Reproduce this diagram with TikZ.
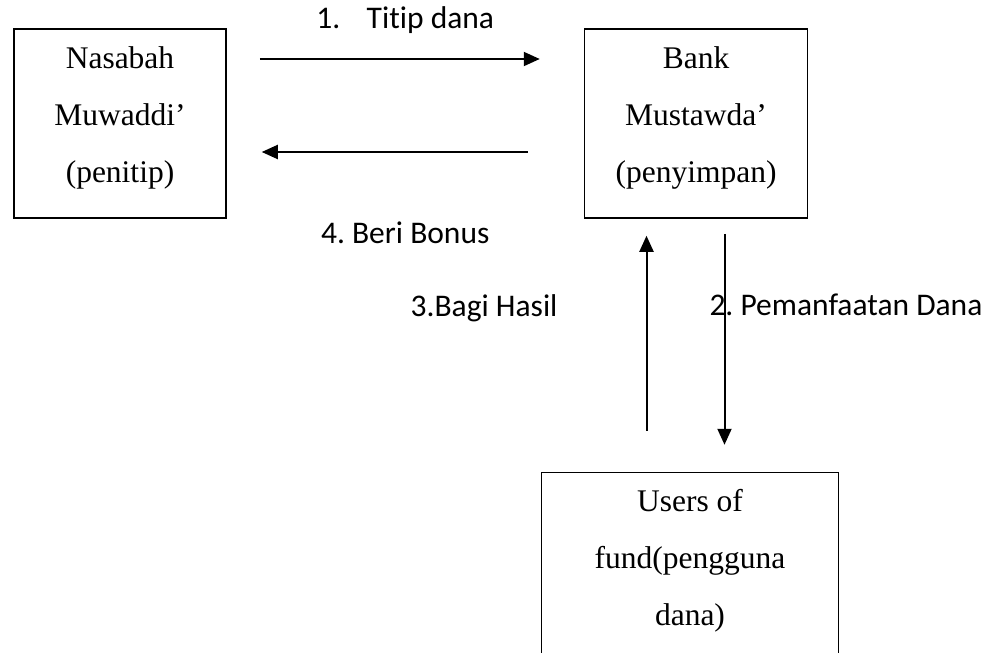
\documentclass[tikz,border=0pt]{standalone}
\usepackage{fontspec}
\setmainfont{Liberation Serif}
\newfontfamily\calibrifont{Carlito}[Ligatures=NoCommon]
\frenchspacing
\usepackage{tikz}
\usetikzlibrary{arrows.meta,positioning}
\tikzstyle{arrow} = [line width=2pt,-{Triangle[length=16pt,width=14pt]}]
\tikzstyle{partybox} = [rectangle, draw, line width=1.5pt, minimum height=189pt, align=center, text depth=18.5pt, font=\fontsize{31.5}{57}\selectfont]
\tikzstyle{steplabel} = [inner sep=0pt, font=\calibrifont\fontsize{31.5}{38}\selectfont]

\begin{document}
\begin{tikzpicture}[x=1pt,y=1pt]
\useasboundingbox (0,0) rectangle (989,-653);
\clip (0,0) rectangle (989,-653);
\node[partybox, minimum width=212pt] (nasabah) at (120,-123.5) {Nasabah\\Muwaddi’\\(penitip)};
\node[partybox, right=357pt of nasabah, minimum width=223pt] (bank) {Bank\\Mustawda’\\(penyimpan)};
\node[partybox, below=253pt of bank, xshift=-6pt, minimum width=297pt] (users) {Users of\\fund(pengguna\\dana)};

\coordinate (hasil) at ([xshift=-49.5pt]bank.south);
\coordinate (manfaat) at ([xshift=28.5pt]bank.south);

\draw[arrow, shorten <=33pt, shorten >=44pt] ([yshift=64.5pt]nasabah.east) -- ([yshift=64.5pt]bank.west) node[steplabel, midway, above=24pt] {1.\hspace{0.84em}Titip dana};
\draw[arrow, shorten <=56pt, shorten >=35pt] ([yshift=-28.5pt]bank.west) -- ([yshift=-28.5pt]nasabah.east) node[steplabel, midway, below=69pt] {4. Beri Bonus};
\draw[arrow, shorten <=15pt, shorten >=27pt] (manfaat) -- (manfaat |- users.north) node[steplabel, pos=0.342, anchor=west, xshift=-16pt] {2. Pemanfaatan Dana};
\draw[arrow, shorten <=41pt, shorten >=17pt] (hasil |- users.north) -- (hasil) node[steplabel, pos=0.646, left=88pt] {3.Bagi Hasil};
\end{tikzpicture}
\end{document}
